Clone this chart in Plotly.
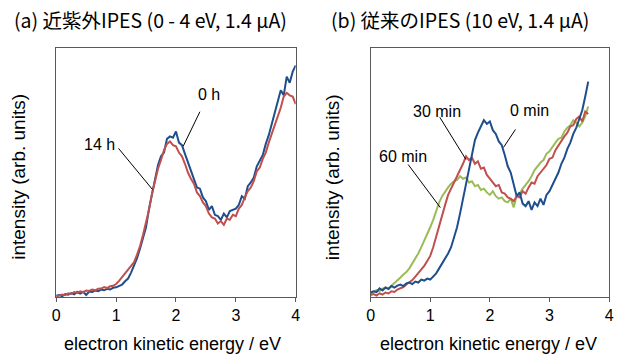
import plotly.graph_objects as go

# ---------------- data ----------------
energy_a = [round(0.05 * i, 2) for i in range(81)]          # 0 .. 4 eV
uv_0h = [0.5, 0.8, 0.3, 1.2, 0.9, 1.6, 1.1, 2.0, 1.4, 2.1,
         0.8, 2.2, 2.0, 2.6, 2.3, 3.0, 2.7, 3.3, 3.0, 3.7,
         3.9, 4.5, 5.0, 6.3, 7.4, 9.8, 12.5, 15.6, 19.5, 23.8,
         28.0, 35.5, 41.0, 47.5, 53.0, 56.5, 58.0, 63.5, 64.5, 64.0,
         66.5, 62.0, 61.0, 57.5, 54.0, 50.5, 47.5, 44.0, 43.5, 40.0,
         38.5, 35.0, 36.5, 33.0, 32.5, 31.0, 33.5, 32.0, 34.5, 35.0,
         35.5, 37.0, 40.5, 39.5, 44.5, 46.0, 48.0, 52.5, 55.0, 57.0,
         61.5, 65.0, 69.5, 74.0, 77.5, 83.0, 81.0, 88.5, 86.0, 90.5,
         93.0]
uv_14h = [0.2, 0.6, 1.0, 0.7, 1.5, 1.2, 2.0, 1.6, 2.3, 1.9,
          2.6, 2.4, 3.0, 2.7, 3.3, 3.4, 4.0, 3.6, 4.3, 4.5,
          5.2, 6.5, 7.8, 9.5, 11.0, 12.5, 14.0, 17.0, 20.5, 25.0,
          29.5, 35.0, 41.5, 47.0, 51.5, 55.0, 59.0, 61.5, 62.5, 61.0,
          60.5, 58.0, 56.5, 53.5, 50.0, 47.5, 45.5, 42.0, 40.5, 38.0,
          36.5, 33.5, 32.0, 31.5, 29.5, 30.5, 29.0, 31.5, 31.0, 33.0,
          32.5, 35.5, 37.0, 40.0, 42.5, 44.0, 46.5, 50.5, 52.0, 55.5,
          58.0, 62.0, 65.5, 69.0, 72.5, 76.0, 80.5, 82.0, 81.0, 80.5,
          77.5]

energy_b = [round(0.05 * i, 2) for i in range(74)]          # 0 .. 3.65 eV
conv_0min = [1.8, 2.3, 2.0, 3.5, 2.6, 3.8, 3.2, 4.4, 3.8, 4.6,
             5.0, 4.4, 5.5, 5.8, 5.2, 6.2, 5.8, 7.0, 6.6, 7.4,
             7.0, 8.2, 9.5, 11.5, 13.5, 15.0, 17.5, 20.0, 24.0, 28.0,
             33.5, 39.5, 46.0, 52.0, 57.5, 63.0, 66.0, 68.5, 71.0, 69.5,
             70.5, 67.0, 65.5, 62.5, 61.0, 57.0, 52.5, 50.0, 45.0, 40.5,
             42.0, 37.5, 36.5, 38.5, 35.0, 38.0, 36.5, 39.5, 37.0, 41.0,
             42.5, 45.0, 47.5, 50.0, 53.5, 56.0, 59.5, 62.0, 65.5, 68.0,
             71.5, 75.0, 80.5, 86.5]
conv_30min = [0.8, 1.2, 0.6, 1.5, 1.0, 1.8, 1.4, 2.3, 2.0, 3.0,
              3.5, 4.0, 5.0, 5.8, 6.8, 8.2, 9.5, 11.0, 12.5, 14.5,
              16.5, 20.0, 24.5, 28.0, 33.5, 37.0, 41.0, 43.5, 46.0, 48.0,
              50.5, 53.5, 56.5, 55.0, 56.0, 53.5, 54.5, 51.5, 52.0, 49.0,
              47.5, 46.0, 44.5, 45.0, 42.0, 41.5, 40.0, 39.5, 38.5, 40.5,
              40.0, 42.5, 41.5, 44.0, 46.0, 45.5, 48.5, 50.0, 51.5, 53.0,
              55.5, 56.0, 59.0, 61.0, 62.5, 64.5, 66.0, 68.5, 69.0, 71.5,
              72.5, 70.5, 74.5, 73.5]
conv_60min = [1.5, 2.2, 2.8, 2.4, 3.4, 3.8, 3.5, 4.5, 5.5, 6.5,
              7.8, 9.0, 10.0, 11.5, 13.5, 15.0, 17.5, 20.0, 22.5, 25.0,
              28.0, 31.0, 34.5, 38.0, 40.5, 42.5, 44.0, 45.5, 46.5, 47.0,
              48.5, 47.5, 48.0, 46.0, 46.5, 44.5, 45.0, 43.0, 43.5, 42.0,
              41.0, 42.5, 40.5, 39.5, 40.0, 38.5, 38.0, 39.5, 36.0, 40.5,
              41.5, 43.5, 45.0, 46.5, 48.5, 51.0, 52.5, 54.0, 55.0, 57.5,
              58.5, 60.5, 62.0, 63.5, 64.0, 66.5, 68.0, 69.0, 71.0, 70.0,
              68.5, 70.0, 72.5, 76.5]

x_ticks = [0, 1, 2, 3, 4]
title_a = "(a) 近紫外IPES (0 - 4 eV, 1.4 μA)"
title_b = "(b) 従来のIPES (10 eV, 1.4 μA)"
x_title = "electron kinetic energy / eV"
y_title = "intensity (arb. units)"

BLUE = "#1f4e8c"
RED = "#c0504d"
GREEN = "#9bbb59"

W, H = 620, 358


def px(x):
    return x / W


def py(y):
    return (H - y) / H


fig = go.Figure()
fig.add_trace(go.Scatter(x=energy_a, y=uv_0h, mode="lines", line=dict(color=BLUE, width=2), xaxis="x", yaxis="y"))
fig.add_trace(go.Scatter(x=energy_a, y=uv_14h, mode="lines", line=dict(color=RED, width=2), xaxis="x", yaxis="y"))
fig.add_trace(go.Scatter(x=energy_b, y=conv_60min, mode="lines", line=dict(color=GREEN, width=2), xaxis="x2", yaxis="y2"))
fig.add_trace(go.Scatter(x=energy_b, y=conv_30min, mode="lines", line=dict(color=RED, width=2), xaxis="x2", yaxis="y2"))
fig.add_trace(go.Scatter(x=energy_b, y=conv_0min, mode="lines", line=dict(color=BLUE, width=2), xaxis="x2", yaxis="y2"))

ydom = [py(297), py(48)]
axcol = "#595959"
tickfont = dict(family="Arial", size=16, color="#000000")
xcommon = dict(range=[0, 4], tickvals=x_ticks, ticks="outside", ticklen=4, tickcolor=axcol,
               showline=True, linecolor=axcol, linewidth=1, mirror=True, showgrid=False,
               zeroline=False, tickfont=tickfont)
ycommon = dict(range=[0, 100], showticklabels=False, ticks="", showline=True, linecolor=axcol,
               linewidth=1, mirror=True, showgrid=False, zeroline=False, domain=ydom)

fig.update_layout(
    width=W, height=H, margin=dict(l=0, r=0, t=0, b=0),
    paper_bgcolor="white", plot_bgcolor="white", showlegend=False,
    xaxis=dict(domain=[px(53), px(296)], anchor="y", **xcommon),
    yaxis=dict(anchor="x", **ycommon),
    xaxis2=dict(domain=[px(372), px(614)], anchor="y2", **xcommon),
    yaxis2=dict(anchor="x2", **ycommon),
)

xtfont = dict(family="Arial", size=18, color="#000000")
ytfont = dict(family="Arial", size=19, color="#000000")
lblfont = dict(family="Arial", size=16, color="#000000")
titlefont = dict(family="Noto Sans CJK JP", size=19.5, color="#000000")
ann = []
ann.append(dict(text=title_a, x=px(8), y=py(19), xref="paper", yref="paper", xanchor="left", yanchor="middle",
                showarrow=False, font=titlefont))
ann.append(dict(text=title_b, x=px(330), y=py(19), xref="paper", yref="paper", xanchor="left", yanchor="middle",
                showarrow=False, font=titlefont))
for cx in (171, 492):
    ann.append(dict(text=x_title, x=px(cx), y=py(344), xref="paper", yref="paper", xanchor="center",
                    yanchor="middle", showarrow=False, font=xtfont))
for cx in (15, 334):
    ann.append(dict(text=y_title, x=px(cx), y=py(177), xref="paper", yref="paper", xanchor="center",
                    yanchor="middle", showarrow=False, textangle=-90, font=ytfont))
labels = [("0 h", 2.55, 81.5, "x", "y"), ("14 h", 0.72, 61.3, "x", "y"),
          ("0 min", 2.66, 75.0, "x2", "y2"), ("30 min", 1.12, 74.6, "x2", "y2"),
          ("60 min", 0.54, 56.5, "x2", "y2")]
for t, x, y, xr, yr in labels:
    ann.append(dict(text=t, x=x, y=y, xref=xr, yref=yr, showarrow=False, font=lblfont))
fig.update_layout(annotations=ann)

leaders = [((2.40, 74.4), (2.12, 60.5), "x", "y"), ((1.04, 59.7), (1.61, 43.1), "x", "y"),
           ((2.43, 67.3), (2.23, 60.1), "x2", "y2"), ((1.16, 72.2), (1.60, 55.2), "x2", "y2"),
           ((0.63, 53.2), (1.17, 35.9), "x2", "y2")]
for (x0, y0), (x1, y1), xr, yr in leaders:
    fig.add_shape(type="line", x0=x0, y0=y0, x1=x1, y1=y1, xref=xr, yref=yr,
                  line=dict(color="#000000", width=1))

fig.write_html("out.html", config={"displayModeBar": False},
               post_script="document.body.style.margin='0';")
